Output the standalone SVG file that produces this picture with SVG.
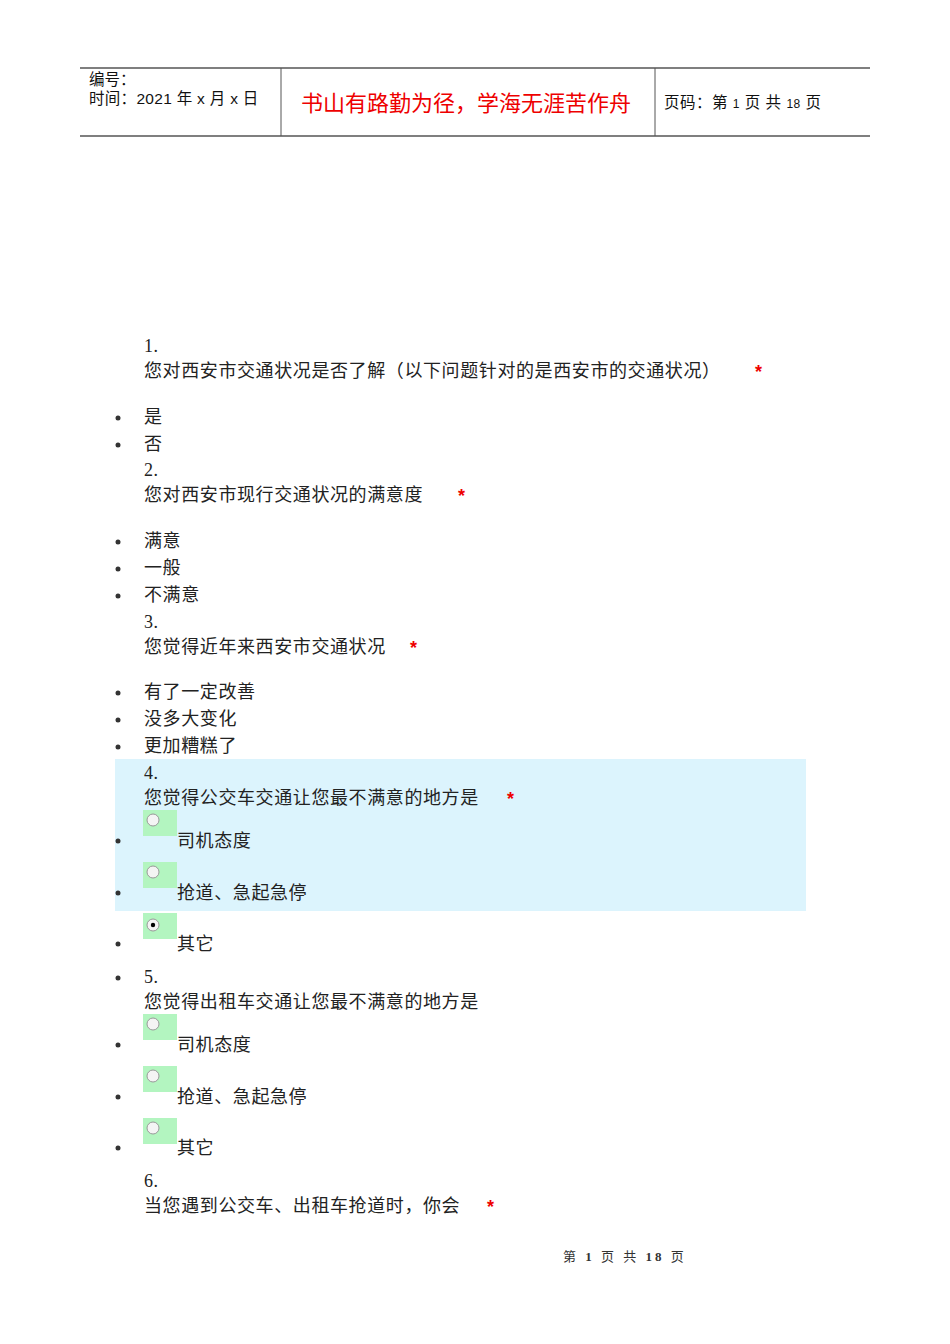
<svg xmlns="http://www.w3.org/2000/svg" width="950" height="1344" viewBox="0 0 950 1344">
<style>
.t{font-family:"Liberation Serif","Noto Sans CJK SC",serif;font-size:18px;letter-spacing:0.6px;fill:#222}
.h{font-family:"Liberation Sans","Noto Sans CJK SC",sans-serif;font-size:15.5px;fill:#111}
.s{fill:#e00;font-family:"Liberation Sans",sans-serif;font-size:18px;font-weight:bold}
.g{fill:#b3f5c0}
.b{fill:#333}
</style>
<rect width="950" height="1344" fill="#fff"/>
<g id="header">
<line x1="80" y1="68" x2="870" y2="68" stroke="#555" stroke-width="1.5"/>
<line x1="80" y1="136" x2="870" y2="136" stroke="#555" stroke-width="1.5"/>
<line x1="281" y1="68" x2="281" y2="136" stroke="#555"/>
<line x1="655" y1="68" x2="655" y2="136" stroke="#555"/>
<text class="h" x="89" y="85">编号：</text>
<text class="h" x="89" y="104" letter-spacing="0.3">时间：2021 年 x 月 x 日</text>
<text x="301" y="111" font-family="Noto Sans CJK SC,sans-serif" font-size="22" fill="#e00">书山有路勤为径，学海无涯苦作舟</text>
<text class="h" x="664" y="108" letter-spacing="0.5">页码：第 <tspan font-size="12">1</tspan> 页  共 <tspan font-size="12">18</tspan> 页</text>
</g>
<rect x="115" y="759" width="691" height="152" fill="#dcf4fd"/>
<g id="bullets">
<circle class="b" cx="118" cy="418" r="2.5"/><circle class="b" cx="118" cy="445" r="2.5"/>
<circle class="b" cx="118" cy="542" r="2.5"/><circle class="b" cx="118" cy="569" r="2.5"/><circle class="b" cx="118" cy="596" r="2.5"/>
<circle class="b" cx="118" cy="693" r="2.5"/><circle class="b" cx="118" cy="720" r="2.5"/><circle class="b" cx="118" cy="747" r="2.5"/>
<circle class="b" cx="118" cy="841" r="2.5"/><circle class="b" cx="118" cy="893" r="2.5"/><circle class="b" cx="118" cy="944" r="2.5"/>
<circle class="b" cx="118" cy="978" r="2.5"/><circle class="b" cx="118" cy="1045" r="2.5"/><circle class="b" cx="118" cy="1097" r="2.5"/><circle class="b" cx="118" cy="1148" r="2.5"/>
</g>
<g id="radios">
<g transform="translate(143,810)"><rect class="g" width="34" height="26"/><circle cx="10" cy="10" r="6" fill="#f4f4f4" stroke="#999"/></g>
<g transform="translate(143,862)"><rect class="g" width="34" height="26"/><circle cx="10" cy="10" r="6" fill="#f4f4f4" stroke="#999"/></g>
<g transform="translate(143,913)"><rect class="g" width="34" height="26"/><circle cx="10" cy="12" r="6" fill="#f4f4f4" stroke="#999"/><circle cx="10" cy="12" r="2.2" fill="#000"/></g>
<g transform="translate(143,1014)"><rect class="g" width="34" height="26"/><circle cx="10" cy="10" r="6" fill="#f4f4f4" stroke="#999"/></g>
<g transform="translate(143,1066)"><rect class="g" width="34" height="26"/><circle cx="10" cy="10" r="6" fill="#f4f4f4" stroke="#999"/></g>
<g transform="translate(143,1118)"><rect class="g" width="34" height="26"/><circle cx="10" cy="10" r="6" fill="#f4f4f4" stroke="#999"/></g>
</g>
<g id="text">
<text class="t" x="144" y="352">1.</text>
<text class="t" x="144" y="377">您对西安市交通状况是否了解（以下问题针对的是西安市的交通状况）</text><text class="s" x="755" y="378">*</text>
<text class="t" x="144" y="423">是</text>
<text class="t" x="144" y="450">否</text>
<text class="t" x="144" y="476">2.</text>
<text class="t" x="144" y="501">您对西安市现行交通状况的满意度</text><text class="s" x="458" y="502">*</text>
<text class="t" x="144" y="547">满意</text>
<text class="t" x="144" y="574">一般</text>
<text class="t" x="144" y="601">不满意</text>
<text class="t" x="144" y="628">3.</text>
<text class="t" x="144" y="653">您觉得近年来西安市交通状况</text><text class="s" x="410" y="654">*</text>
<text class="t" x="144" y="698">有了一定改善</text>
<text class="t" x="144" y="725">没多大变化</text>
<text class="t" x="144" y="752">更加糟糕了</text>
<text class="t" x="144" y="779">4.</text>
<text class="t" x="144" y="804">您觉得公交车交通让您最不满意的地方是</text><text class="s" x="507" y="805">*</text>
<text class="t" x="177" y="847">司机态度</text>
<text class="t" x="177" y="899">抢道、急起急停</text>
<text class="t" x="177" y="950">其它</text>
<text class="t" x="144" y="983">5.</text>
<text class="t" x="144" y="1008">您觉得出租车交通让您最不满意的地方是</text>
<text class="t" x="177" y="1051">司机态度</text>
<text class="t" x="177" y="1103">抢道、急起急停</text>
<text class="t" x="177" y="1154">其它</text>
<text class="t" x="144" y="1187">6.</text>
<text class="t" x="144" y="1212">当您遇到公交车、出租车抢道时，你会</text><text class="s" x="487" y="1213">*</text>
<text x="563" y="1261" font-family="Liberation Serif,Noto Sans CJK SC,serif" font-size="13" letter-spacing="3" fill="#333">第 <tspan font-weight="bold">1</tspan> 页 共 <tspan font-weight="bold">18</tspan> 页</text>
</g>
</svg>
